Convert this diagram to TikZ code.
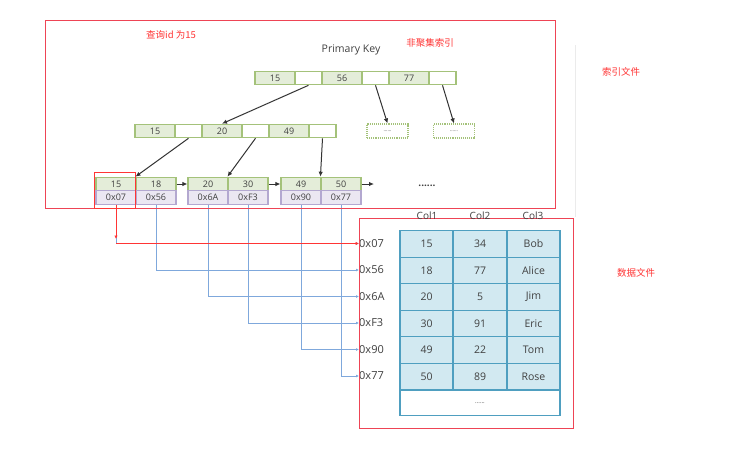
\documentclass[tikz,border=0pt]{standalone}
\usepackage{fontspec}
\setmainfont{Open Sans}
\newfontfamily\cjk{Noto Sans CJK SC}
\usetikzlibrary{arrows.meta}
\definecolor{redbox}{HTML}{EE4455}
\definecolor{redtxt}{HTML}{FF3535}
\definecolor{gfill}{HTML}{E4EDD9}
\definecolor{gline}{HTML}{A4C27A}
\definecolor{pfill}{HTML}{EBE7F2}
\definecolor{pline}{HTML}{B3A8D0}
\definecolor{tfill}{HTML}{D2E9F1}
\definecolor{tline}{HTML}{4F9FC0}
\definecolor{bline}{HTML}{7FA8DC}
\definecolor{txt}{HTML}{404040}
\tikzset{
  cellbase/.style={rectangle, inner sep=0pt, line width=1.1pt, font=\fontsize{9}{9}\selectfont, text=txt},
  keycell/.style={cellbase, draw=gline, fill=gfill, minimum width=40pt, minimum height=13.5pt},
  ptrcell/.style={cellbase, draw=gline, fill=white, minimum width=27pt, minimum height=13.5pt},
  dotcell/.style={cellbase, draw=gline, densely dotted, fill=white, minimum width=41pt, minimum height=14pt, font=\fontsize{5}{5}\selectfont},
  addrcell/.style={cellbase, draw=pline, fill=pfill, minimum width=40pt, minimum height=13.5pt},
  tcell/.style={rectangle, inner sep=0pt, draw=tline, line width=1.3pt, fill=tfill, minimum height=26.5pt, font=\fontsize{10.5}{11}\selectfont, text=txt},
  hexlab/.style={anchor=west, inner sep=0pt, font=\fontsize{11}{11}\selectfont, text=txt},
  collab/.style={font=\fontsize{10}{10}\selectfont, text=txt, inner sep=0pt},
  treearrow/.style={draw=black!80, line width=1pt, -{Latex[length=5pt,width=4.5pt]}},
  blueline/.style={draw=bline, line width=0.8pt, -{Latex[length=3pt,width=3pt]}},
  redline/.style={draw=redtxt, line width=1pt, -{Latex[length=3.5pt,width=3.5pt]}},
  redrect/.style={draw=redbox, line width=1pt},
  redlab/.style={text=redtxt, font=\cjk\fontsize{9.5}{10}\selectfont, inner sep=0pt}
}
\begin{document}
\begin{tikzpicture}[x=1pt,y=-1pt]
\useasboundingbox[fill=white] (0,0) rectangle (737,455);
% faint artifact line
\draw[black!8, line width=0.8pt] (575,45) -- (575,217);
% labels
\node[redlab] (q) at (171,35) {查询id 为15};
\node[redlab] (nc) at (430,43) {非聚集索引};
\node[redlab] (sy) at (621,72) {索引文件};
\node[redlab] (sj) at (636,273) {数据文件};
\node[font=\fontsize{10.5}{11}\selectfont, text=txt, inner sep=0pt] (pk) at (351,50) {Primary Key};
% root
\node[keycell] (r1) at (275,78) {15};
\node[ptrcell] (r1p) at (308.5,78) {};
\node[keycell] (r2) at (342,78) {56};
\node[ptrcell] (r2p) at (375.5,78) {};
\node[keycell] (r3) at (409,78) {77};
\node[ptrcell] (r3p) at (442.5,78) {};
% middle
\node[keycell] (m1) at (155,131) {15};
\node[ptrcell] (m1p) at (188.5,131) {};
\node[keycell] (m2) at (222,131) {20};
\node[ptrcell] (m2p) at (255.5,131) {};
\node[keycell] (m3) at (289,131) {49};
\node[ptrcell] (m3p) at (322.5,131) {};
\node[dotcell] (d1) at (387.5,131) {......};
\node[dotcell] (d2) at (454,131) {......};
% leaves
\node[keycell] (k1) at (116,184) {15};
\node[keycell] (k2) at (156,184) {18};
\node[keycell] (k3) at (208,184) {20};
\node[keycell] (k4) at (248,184) {30};
\node[keycell] (k5) at (301,184) {49};
\node[keycell] (k6) at (341,184) {50};
\node[addrcell] (a1) at (116,197.5) {0x07};
\node[addrcell] (a2) at (156,197.5) {0x56};
\node[addrcell] (a3) at (208,197.5) {0x6A};
\node[addrcell] (a4) at (248,197.5) {0xF3};
\node[addrcell] (a5) at (301,197.5) {0x90};
\node[addrcell] (a6) at (341,197.5) {0x77};
\node[font=\bfseries\fontsize{10}{10}\selectfont, text=txt, inner sep=0pt] (more) at (427,186) {......};
\coordinate (leafend) at (374,184);
% tree arrows
\draw[treearrow] (r1p.south) -- (m2.north);
\draw[treearrow] (r2p.south) -- (d1.north);
\draw[treearrow] (r3p.south) -- (d2.north);
\draw[treearrow] (m1p.south) -- (k2.north west);
\draw[treearrow] (m2p.south) -- (k4.north west);
\draw[treearrow] (m3p.south) -- (k6.north west);
\draw[treearrow] (k2.east) -- (k3.west);
\draw[treearrow] (k4.east) -- (k5.west);
\draw[treearrow] (k6.east) -- (leafend);
% hex labels
\node[hexlab] (h1) at (359,243.5) {0x07};
\node[hexlab] (h2) at (359,270) {0x56};
\node[hexlab] (h3) at (359,296.5) {0x6A};
\node[hexlab] (h4) at (359,323) {0xF3};
\node[hexlab] (h5) at (359,349.5) {0x90};
\node[hexlab] (h6) at (359,376) {0x77};
% pointer lines
\draw[blueline] (a1.south) |- (h1.west);
\draw[blueline] (a2.south) |- (h2.west);
\draw[blueline] (a3.south) |- (h3.west);
\draw[blueline] (a4.south) |- (h4.west);
\draw[blueline] (a5.south) |- (h5.west);
\draw[blueline] (a6.south) |- (h6.west);
\coordinate (rdown) at (116,239);
\coordinate (rturn) at (116,243.5);
\draw[redline] (a1.south) -- (rdown);
\draw[redline] (rturn) -- (h1.west);
% red boxes
\draw[redrect] (45,20) rectangle (555,208);
\node[draw=redtxt, line width=1pt, minimum width=41pt, minimum height=36pt, inner sep=0pt] (hl) at (115,190) {};
\draw[redrect] (359,218) rectangle (573,428);
% table header
\node[collab] (c1) at (427,216) {Col1};
\node[collab] (c2) at (480,216) {Col2};
\node[collab] (c3) at (533,216) {Col3};
% table
\foreach \r/\a/\b/\c [count=\i] in {244/15/34/Bob, 270.5/18/77/Alice, 297/20/5/Jim, 323.5/30/91/Eric, 350/49/22/Tom, 376.5/50/89/Rose}{
  \node[tcell, minimum width=53pt] (t\i a) at (426.5,\r) {\a};
  \node[tcell, minimum width=54pt] (t\i b) at (480,\r) {\b};
  \node[tcell, minimum width=53pt] (t\i c) at (533.5,\r) {\c};
}
\node[rectangle, draw=tline, line width=1.3pt, fill=white, minimum width=160pt, minimum height=25.5pt, inner sep=0pt, font=\fontsize{6}{6}\selectfont, text=txt] (tlast) at (480,403) {......};
\end{tikzpicture}
\end{document}
